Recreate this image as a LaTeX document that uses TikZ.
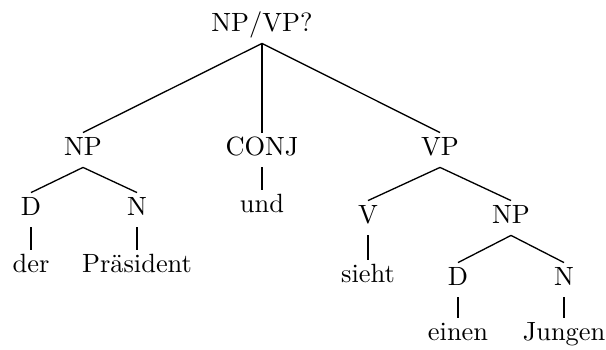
\documentclass[tikz,border=0pt]{standalone}

\begin{document}
\begin{tikzpicture}[x=0.3788pt, y=-0.3788pt]
            \tikzset{cat/.style = {anchor=base, inner sep=1.5pt, text height=6.8pt, text depth=3pt}}

            \useasboundingbox (0,0) rectangle (606,349);

            \node[cat] (root) at (262,31) {NP/VP?};

            \node[cat] (np) at (83,155) {NP};
            \node[cat] (conj) at (262,155) {CONJ};
            \node[cat] (vp) at (440,155) {VP};

            \node[cat] (d) at (31,215) {D};
            \node[cat] (n) at (137,215) {N};
            \node[cat] (der) at (31,272) {der};
            \node[cat] (praesident) at (137,272) {Präsident};

            \node[cat] (und) at (262,212) {und};

            \node[cat] (v) at (368,223) {V};
            \node[cat] (np2) at (511,223) {NP};
            \node[cat] (sieht) at (368,282) {sieht};

            \node[cat] (d2) at (458,285) {D};
            \node[cat] (n2) at (564,285) {N};
            \node[cat] (einen) at (458,340) {einen};
            \node[cat] (jungen) at (564,340) {Jungen};

            \draw[line width=0.5pt] (root.south) edge (np.north);
            \draw[line width=0.5pt] (root.south) edge (conj.north);
            \draw[line width=0.5pt] (root.south) edge (vp.north);

            \draw[line width=0.5pt] (np.south) edge (d.north);
            \draw[line width=0.5pt] (np.south) edge (n.north);
            \draw[line width=0.5pt] (d.south) edge (der.north);
            \draw[line width=0.5pt] (n.south) edge (praesident.north);

            \draw[line width=0.5pt] (conj.south) edge (und.north);

            \draw[line width=0.5pt] (vp.south) edge (v.north);
            \draw[line width=0.5pt] (vp.south) edge (np2.north);
            \draw[line width=0.5pt] (v.south) edge (sieht.north);

            \draw[line width=0.5pt] (np2.south) edge (d2.north);
            \draw[line width=0.5pt] (np2.south) edge (n2.north);
            \draw[line width=0.5pt] (d2.south) edge (einen.north);
            \draw[line width=0.5pt] (n2.south) edge (jungen.north);
        \end{tikzpicture}
\end{document}
